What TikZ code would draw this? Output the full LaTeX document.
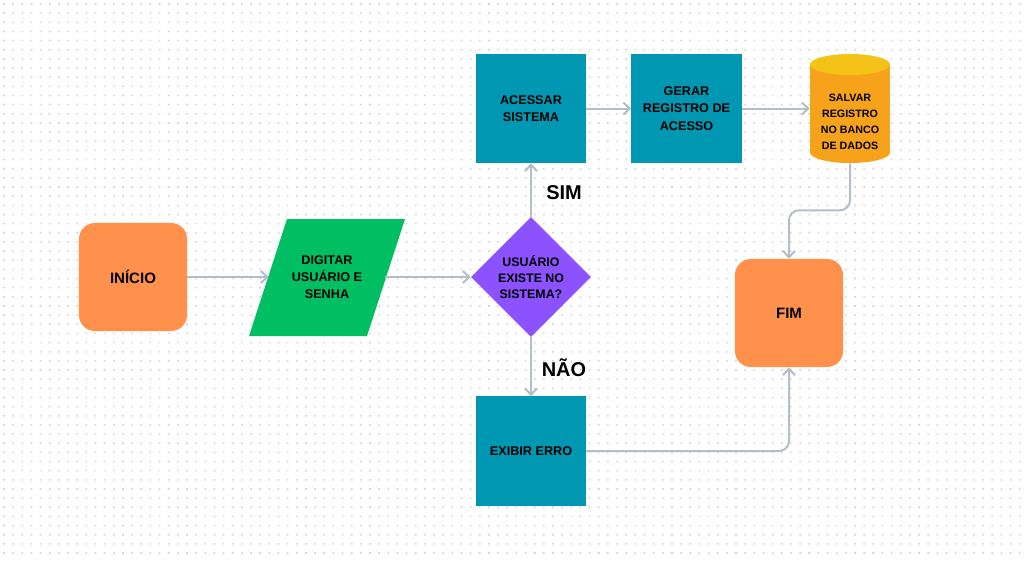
\documentclass[tikz,border=0pt]{standalone}
\usepackage{fontspec}
\setmainfont{Liberation Sans}
\usetikzlibrary{arrows.meta,shapes.geometric}

\definecolor{laranja}{HTML}{FF914D}
\definecolor{verde}{HTML}{00BF63}
\definecolor{roxo}{HTML}{8C52FF}
\definecolor{azul}{HTML}{0097B2}
\definecolor{corpo}{HTML}{F6A21A}
\definecolor{tampa}{HTML}{F3C417}
\definecolor{cinza}{HTML}{B4BEC8}
\definecolor{pontos}{HTML}{D6D6D6}

\begin{document}
\begin{tikzpicture}[x=0.025cm,y=-0.025cm,
    seta/.style={draw=cinza, line width=0.05cm, rounded corners=0.25cm,
        -{Straight Barb[length=0.16cm,width=0.3cm]}},
    texto/.style={font=\fontsize{9}{12.2}\selectfont\bfseries, align=center, text=black},
    caixa/.style={texto, fill=azul, minimum width=2.75cm, minimum height=2.725cm, inner sep=0pt},
    terminal/.style={fill=laranja, rounded corners=0.4cm, minimum size=2.7cm, inner sep=0pt,
        font=\fontsize{10.7}{13}\selectfont\bfseries},
    rotulo/.style={font=\fontsize{14.2}{16}\selectfont\bfseries, inner sep=0pt}]

    % fundo com pontos
    \fill[white] (0,0) rectangle (1024,560);
    \useasboundingbox (0,0) rectangle (1024,560);
    \foreach \i in {0,...,111}{
        \fill[pontos] \foreach \j in {0,...,60}{(3.2+9.15*\i,3.2+9.15*\j) rectangle ++(1.6,1.6)};
    }

    % inicio e entrada (paralelogramo)
    \node[terminal] (inicio) at (133,277) {INÍCIO};
    \fill[verde] (249,336) -- (287,219) -- (405,219) -- (367,336) -- cycle;
    \node[texto, minimum width=2.9cm, minimum height=2.925cm, inner sep=0pt] (digitar) at (327,277) {DIGITAR\\USUÁRIO E\\SENHA};

    % decisao
    \node[diamond, fill=roxo, minimum width=3cm, minimum height=3cm, inner sep=0pt, texto,
        font=\fontsize{8.8}{11.4}\selectfont\bfseries] (decisao) at (531,277) {USUÁRIO\\EXISTE NO\\SISTEMA?};

    % ramo SIM
    \node[caixa] (acessar) at (531,108.5) {ACESSAR\\SISTEMA};
    \node[caixa] (gerar) at (686.5,108.5) {GERAR\\REGISTRO DE\\ACESSO};

    % banco de dados (cilindro)
    \fill[corpo] (810,64.5) rectangle (890,152.5);
    \fill[corpo] (850,152.5) ellipse [x radius=1cm, y radius=0.2625cm];
    \fill[tampa] (850,64.5) ellipse [x radius=1cm, y radius=0.2625cm];
    \node[texto, font=\fontsize{7.6}{11.4}\selectfont\bfseries, minimum width=2cm, minimum height=2.05cm,
        inner sep=0pt] (banco) at (850,122) {SALVAR\\REGISTRO\\NO BANCO\\DE DADOS};

    % fim e ramo NAO
    \node[terminal] (fim) at (789,313) {FIM};
    \node[caixa] (exibir) at (531,451) {EXIBIR ERRO};

    % rotulos
    \node[rotulo] (sim) at (564,193) {SIM};
    \node[rotulo] (nao) at (564,368) {NÃO};

    % setas
    \draw[seta] (inicio) -- (digitar);
    \draw[seta] (digitar) -- (decisao);
    \draw[seta] (decisao) -- (acessar);
    \draw[seta] (decisao) -- (exibir);
    \draw[seta] (acessar) -- (gerar);
    \draw[seta] (gerar.east) -- (gerar.east -| banco.west);
    \draw[seta] (banco.south) -- ++(0,47) -| (fim.north);
    \draw[seta] (exibir.east) -| (fim.south);
\end{tikzpicture}
\end{document}
